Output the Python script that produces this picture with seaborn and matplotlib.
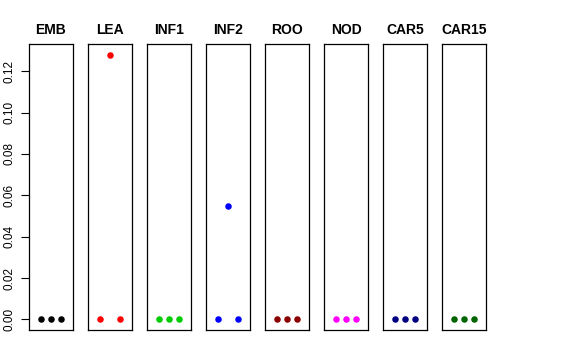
import matplotlib
matplotlib.use('Agg')
import matplotlib.pyplot as plt
import pandas as pd
import seaborn as sns

tissues = ['EMB', 'LEA', 'INF1', 'INF2', 'ROO', 'NOD', 'CAR5', 'CAR15']
replicate = [1, 2, 3]
emb = [0.0, 0.0, 0.0]
lea = [0.0, 0.128, 0.0]
inf1 = [0.0, 0.0, 0.0]
inf2 = [0.0, 0.055, 0.0]
roo = [0.0, 0.0, 0.0]
nod = [0.0, 0.0, 0.0]
car5 = [0.0, 0.0, 0.0]
car15 = [0.0, 0.0, 0.0]
colores = ['black', 'red', '#00CD00', 'blue', '#8B0000', 'magenta', '#000080', '#006400']
yticks = [0.00, 0.02, 0.04, 0.06, 0.08, 0.10, 0.12]

valores = [emb, lea, inf1, inf2, roo, nod, car5, car15]
df = pd.DataFrame({
    'tejido': [t for t in tissues for _ in replicate],
    'rep': replicate * len(tissues),
    'valor': [v for vals in valores for v in vals],
})

sns.set_style('white')
plt.rcParams['font.family'] = ['Liberation Sans', 'DejaVu Sans']
plt.rcParams['text.color'] = 'black'
plt.rcParams['ytick.color'] = 'black'
plt.rcParams['ytick.labelcolor'] = 'black'

fig, axes = plt.subplots(1, len(tissues), figsize=(5.76, 3.6), dpi=100, sharey=True)
fig.subplots_adjust(left=29/576, right=486/576, top=1-44/360, bottom=1-330/360, wspace=15/44)

ymax = max(df['valor'])
for i, (ax, t) in enumerate(zip(axes, tissues)):
    sub = df[df['tejido'] == t]
    sns.scatterplot(data=sub, x='rep', y='valor', ax=ax, color=colores[i],
                    s=22, linewidth=0, legend=False)
    ax.set_xlim(-0.16, 4.16)
    ax.set_ylim(-0.04 * ymax, ymax * 1.04)
    ax.set_xticks([])
    ax.set_xlabel('')
    ax.set_ylabel('')
    ax.set_title(t, fontsize=10, fontweight='bold', pad=7, color='black')
    for sp in ax.spines.values():
        sp.set_visible(True)
        sp.set_color('black')
        sp.set_linewidth(0.9)
    if i == 0:
        ax.set_yticks(yticks)
        ax.set_yticklabels(['%.2f' % v for v in yticks], rotation=90, va='center', fontsize=8.5)
        ax.tick_params(axis='y', left=True, length=6, width=0.8, color='black', pad=4)
    else:
        ax.tick_params(axis='y', left=False, labelleft=False)

plt.savefig('out.png', dpi=100)
